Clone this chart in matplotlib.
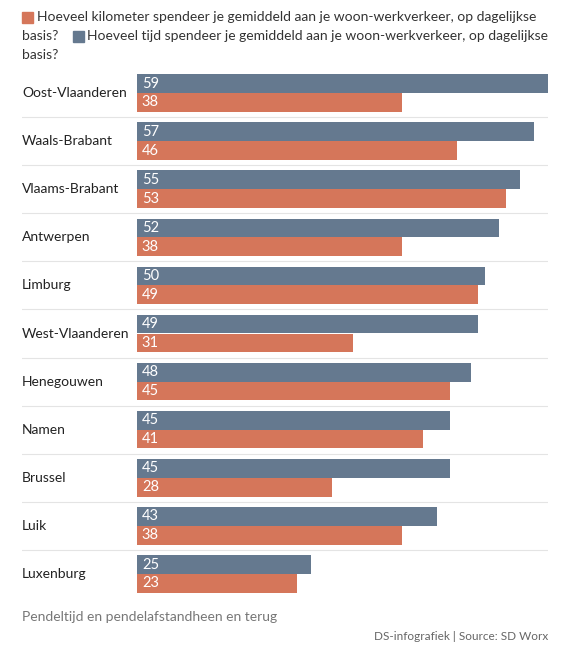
import matplotlib
matplotlib.use("Agg")
import matplotlib.pyplot as plt
from matplotlib.patches import Rectangle

categories = ["Oost-Vlaanderen", "Waals-Brabant", "Vlaams-Brabant", "Antwerpen", "Limburg",
              "West-Vlaanderen", "Henegouwen", "Namen", "Brussel", "Luik", "Luxenburg"]
tijd = [59, 57, 55, 52, 50, 49, 48, 45, 45, 43, 25]
km = [38, 46, 53, 38, 49, 31, 45, 41, 28, 38, 23]
legend_km = "Hoeveel kilometer spendeer je gemiddeld aan je woon-werkverkeer, op dagelijkse"
legend_tijd = "Hoeveel tijd spendeer je gemiddeld aan je woon-werkverkeer, op dagelijkse"

BLUE = "#65798f"
ORANGE = "#d5765a"
FONT = ["Lato", "DejaVu Sans"]
plt.rcParams['font.family'] = FONT

W, H = 563, 656
fig = plt.figure(figsize=(W / 100, H / 100), dpi=100)

# axes in pixel coords
left_px, right_px = 22, 548
top_px, bot_px = 69, 598
ax = fig.add_axes([left_px / W, 1 - bot_px / H, (right_px - left_px) / W, (bot_px - top_px) / H])
xmax = 59
zero_px = 137
xmin = -xmax * (zero_px - left_px) / (right_px - zero_px)
ax.set_xlim(xmin, xmax)
n = len(categories)
ax.set_ylim(n - 0.5, -0.5)
ax.axis("off")

bh = 0.39
ys = list(range(n))
ax.barh([y - bh / 2 for y in ys], tijd, height=bh, color=BLUE, left=0)
ax.barh([y + bh / 2 for y in ys], km, height=bh, color=ORANGE, left=0)

off = 0.7
for y, t, k, c in zip(ys, tijd, km, categories):
    ax.text(off, y - bh / 2, str(t), color="white", fontsize=10.5, va="center", ha="left")
    ax.text(off, y + bh / 2, str(k), color="white", fontsize=10.5, va="center", ha="left")
    ax.text(xmin, y, c, color="#222222", fontsize=10, va="center", ha="left")
    if y < n - 1:
        ax.plot([xmin, xmax], [y + 0.5, y + 0.5], color="#e4e4e4", lw=0.8)

# legend
def fx(px):
    return px / W

def fy(py):
    return 1 - py / H

fs_leg = 10
fig.patches.append(Rectangle((fx(22), fy(23)), 11 / W, 11 / H, transform=fig.transFigure,
                             color=ORANGE, figure=fig))
fig.text(fx(37), fy(17), legend_km, fontsize=fs_leg, color="#333333", va="center", ha="left")
fig.text(fx(22), fy(36), "basis?", fontsize=fs_leg, color="#333333", va="center", ha="left")
fig.patches.append(Rectangle((fx(73), fy(42)), 11 / W, 11 / H, transform=fig.transFigure,
                             color=BLUE, figure=fig))
fig.text(fx(87), fy(36), legend_tijd, fontsize=fs_leg, color="#333333", va="center", ha="left")
fig.text(fx(22), fy(55), "basis?", fontsize=fs_leg, color="#333333", va="center", ha="left")

fig.text(fx(22), fy(617), "Pendeltijd en pendelafstandheen en terug", fontsize=10,
         color="#777777", va="center", ha="left")
fig.text(fx(548), fy(637), "DS-infografiek | Source: SD Worx", fontsize=8.5,
         color="#666666", va="center", ha="right")

fig.savefig("out.png", dpi=100)
